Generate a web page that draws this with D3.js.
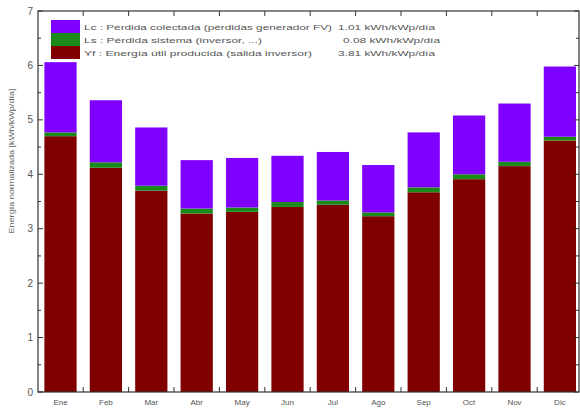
<!DOCTYPE html>
<html><head><meta charset="utf-8">
<script src="https://cdn.jsdelivr.net/npm/d3@7"></script>
<style>body{margin:0;background:#fff}svg{display:block}text{font-family:"Liberation Sans",Arial,sans-serif}</style>
</head><body><svg id="c" width="580" height="408"></svg>
<script>
const months = ["Ene","Feb","Mar","Abr","May","Jun","Jul","Ago","Sep","Oct","Nov","Dic"];
const yf = [4.70,4.12,3.70,3.28,3.31,3.40,3.44,3.23,3.67,3.91,4.15,4.62];
const ls = [0.07,0.10,0.09,0.09,0.08,0.09,0.08,0.07,0.09,0.09,0.08,0.07];
const lc = [1.29,1.14,1.07,0.89,0.91,0.85,0.89,0.87,1.01,1.08,1.07,1.29];
const legendNames = ["Lc : Pérdida colectada (pérdidas generador FV)","Ls : Pérdida sistema  (inversor, ...)","Yf : Energía útil producida  (salida inversor)"];
const legendValues = ["1.01 kWh/kWp/día","0.08 kWh/kWp/día","3.81 kWh/kWp/día"];
const yTicks = [0,1,2,3,4,5,6,7];
const yLabel = "Energía normalizada [kWh/kWp/día]";
const colors = {yf:"#800000", ls:"#1a8a1a", lc:"#8000ff"};

const svg = d3.select("#c");
const L = 38, R = 579, T = 11, B = 392;
const x = d3.scaleBand().domain(months).range([37.8, 582.6]).paddingInner(0.29).paddingOuter(0.145);
const y = d3.scaleLinear().domain([0,7]).range([B,T]);

const data = months.map((m,i)=>({m, yf:yf[i], ls:ls[i], lc:lc[i]}));
const stack = d3.stack().keys(["yf","ls","lc"])(data);
svg.append("g").selectAll("g").data(stack).join("g").attr("fill",d=>colors[d.key])
  .selectAll("rect").data(d=>d).join("rect")
  .attr("x",d=>x(d.data.m)).attr("width",x.bandwidth())
  .attr("y",d=>y(d[1])).attr("height",d=>y(d[0])-y(d[1]));

// frame
const ax = "#333";
svg.append("rect").attr("x",L).attr("y",T).attr("width",R-L).attr("height",B-T)
  .attr("fill","none").attr("stroke",ax).attr("stroke-width",1.2);

// y ticks (left and right, inward)
const yt = d3.range(0,7.01,0.5);
svg.append("g").selectAll("line").data(yt).join("line")
  .attr("x1",L).attr("x2",d=>L+(d%1===0?5:3)).attr("y1",d=>y(d)).attr("y2",d=>y(d)).attr("stroke",ax);
svg.append("g").selectAll("line").data(yt).join("line")
  .attr("x1",R).attr("x2",d=>R-(d%1===0?5:3)).attr("y1",d=>y(d)).attr("y2",d=>y(d)).attr("stroke",ax);
svg.append("g").selectAll("text").data(yTicks).join("text")
  .attr("x",L-5).attr("y",d=>y(d)+3.5).attr("text-anchor","end").attr("font-size",10).attr("fill","#555").text(d=>d);

// x ticks at band boundaries (top and bottom, inward)
const bounds = months.slice(1).map(m=>x(m)-x.step()*x.paddingInner()/2);
svg.append("g").selectAll("line").data(bounds).join("line")
  .attr("x1",d=>d).attr("x2",d=>d).attr("y1",B).attr("y2",B-5).attr("stroke",ax);
svg.append("g").selectAll("line").data(bounds).join("line")
  .attr("x1",d=>d).attr("x2",d=>d).attr("y1",T).attr("y2",T+5).attr("stroke",ax);
svg.append("g").selectAll("text").data(months).join("text")
  .attr("x",d=>x(d)+x.bandwidth()/2).attr("y",405).attr("text-anchor","middle")
  .attr("font-size",8).attr("fill","#555").text(d=>d);

// y label
svg.append("text").attr("transform","translate(14,161) rotate(-90)").attr("text-anchor","middle")
  .attr("font-size",7.5).attr("textLength",145).attr("lengthAdjust","spacingAndGlyphs")
  .attr("fill","#666").text(yLabel);

// legend
const lg = svg.append("g");
const swc = [colors.lc, colors.ls, colors.yf];
lg.selectAll("rect").data(swc).join("rect")
  .attr("x",51).attr("y",(d,i)=>20+i*13).attr("width",29).attr("height",13).attr("fill",d=>d);
const nameLen = [248,178,228];
lg.selectAll("text.n").data(legendNames).join("text").attr("class","n")
  .attr("x",84).attr("y",(d,i)=>30+i*13).attr("font-size",8)
  .attr("textLength",(d,i)=>nameLen[i]).attr("lengthAdjust","spacingAndGlyphs")
  .attr("fill","#555").text(d=>d);
const vx = [338,343,338];
lg.selectAll("text.v").data(legendValues).join("text").attr("class","v")
  .attr("x",(d,i)=>vx[i]).attr("y",(d,i)=>30+i*13).attr("font-size",8)
  .attr("textLength",97).attr("lengthAdjust","spacingAndGlyphs")
  .attr("fill","#555").text(d=>d);
</script></body></html>
